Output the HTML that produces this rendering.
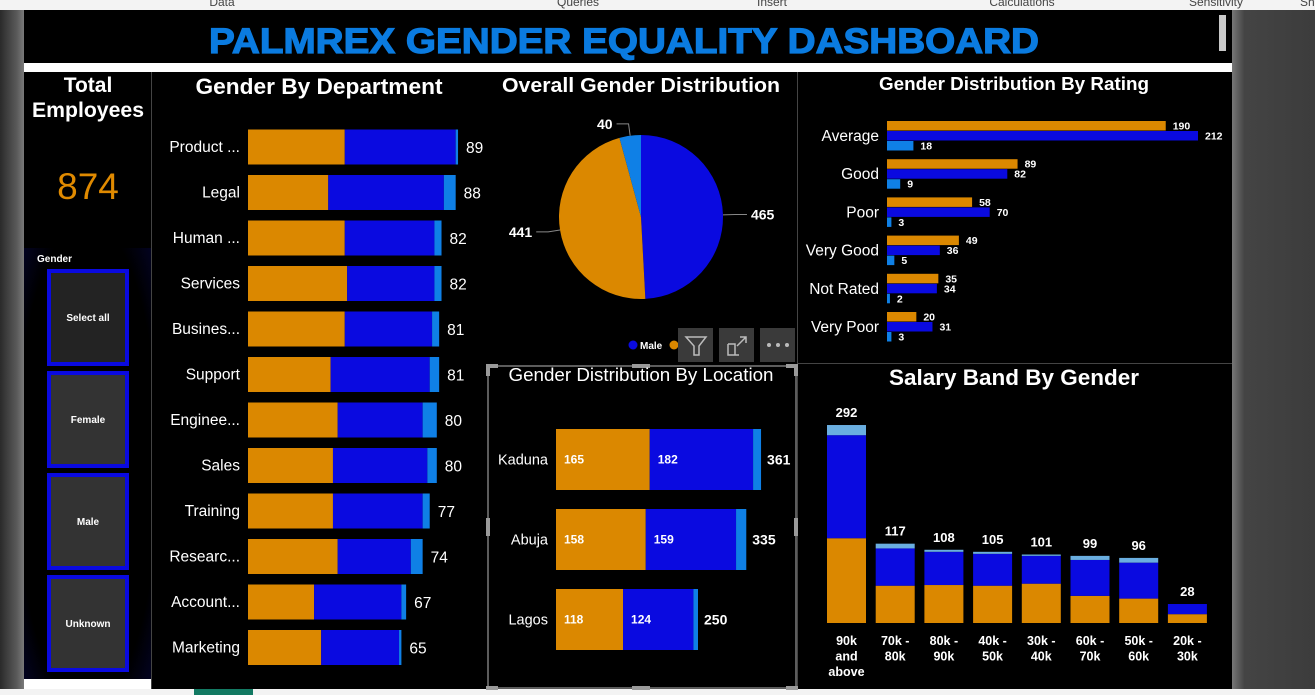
<!DOCTYPE html>
<html><head><meta charset="utf-8">
<style>
html,body{margin:0;padding:0;width:1315px;height:695px;overflow:hidden;background:#3c3c3c;font-family:"Liberation Sans",sans-serif;}
svg{display:block}
</style></head>
<body>
<svg id="dash" width="1315" height="695" viewBox="0 0 1315 695" xmlns="http://www.w3.org/2000/svg" font-family="Liberation Sans, sans-serif">
<defs>
<linearGradient id="lg" x1="0" x2="1"><stop offset="0" stop-color="#2a2a2a"/><stop offset="0.7" stop-color="#5a5a5a"/><stop offset="1" stop-color="#7a7a7a"/></linearGradient>
<linearGradient id="rg" x1="0" x2="1"><stop offset="0" stop-color="#777"/><stop offset="0.15" stop-color="#444"/><stop offset="1" stop-color="#3c3c3c"/></linearGradient>
<radialGradient id="sg" cx="0.5" cy="0.5" r="0.75"><stop offset="0.75" stop-color="#000"/><stop offset="1" stop-color="#03032a"/></radialGradient>
</defs>
<rect x="0" y="0" width="1315" height="10" fill="#f3f3f3"/>
<g font-size="12" fill="#444">
<text x="222" y="6" text-anchor="middle">Data</text>
<text x="578" y="6" text-anchor="middle">Queries</text>
<text x="772" y="6" text-anchor="middle">Insert</text>
<text x="1022" y="6" text-anchor="middle">Calculations</text>
<text x="1216" y="6" text-anchor="middle">Sensitivity</text>
<text x="1300" y="6">Sh</text>
</g>
<rect x="0" y="10" width="24" height="685" fill="url(#lg)"/>
<rect x="1232" y="10" width="83" height="685" fill="url(#rg)"/>
<rect x="24" y="10" width="1208" height="679" fill="#000"/>
<rect x="24" y="679" width="127" height="10" fill="#fff"/>
<rect x="0" y="689" width="1315" height="6" fill="#f3f3f3"/>
<rect x="194" y="689" width="59" height="6" fill="#137a63"/>
<text x="624" y="53" text-anchor="middle" font-size="35" font-weight="bold" fill="#0a7be0" stroke="#0a7be0" stroke-width="1.2" textLength="830" lengthAdjust="spacingAndGlyphs">PALMREX GENDER EQUALITY DASHBOARD</text>
<rect x="1219" y="15" width="7" height="36" fill="#c8c8c8"/>
<rect x="24" y="63" width="1208" height="9" fill="#fff"/>
<g stroke="#444" stroke-width="1">
<line x1="151.5" y1="72" x2="151.5" y2="689"/>
<line x1="797.5" y1="72" x2="797.5" y2="689"/>
<line x1="797" y1="363.5" x2="1232" y2="363.5"/>
</g>
<text x="88" y="92" text-anchor="middle" font-size="21" font-weight="bold" fill="#fff">Total</text>
<text x="88" y="117" text-anchor="middle" font-size="21" font-weight="bold" fill="#fff" textLength="112" lengthAdjust="spacingAndGlyphs">Employees</text>
<text x="88" y="199" text-anchor="middle" font-size="37" fill="#e08a00">874</text>
<rect x="24" y="248" width="127" height="431" fill="url(#sg)"/>
<text x="37" y="262" font-size="10" font-weight="bold" fill="#fff">Gender</text>
<g id="slicer"></g>
<text x="319" y="94" text-anchor="middle" font-size="22" font-weight="bold" fill="#fff" textLength="247" lengthAdjust="spacingAndGlyphs">Gender By Department</text>
<g id="dept"></g>
<text x="641" y="92" text-anchor="middle" font-size="20" font-weight="bold" fill="#fff" textLength="278" lengthAdjust="spacingAndGlyphs">Overall Gender Distribution</text>
<g id="pie"></g>
<text x="1014" y="90" text-anchor="middle" font-size="18.5" font-weight="bold" fill="#fff" textLength="270" lengthAdjust="spacingAndGlyphs">Gender Distribution By Rating</text>
<g id="rating"></g>
<rect x="488" y="366" width="308" height="322" fill="none" stroke="#7a7a7a" stroke-width="1.5"/>
<g fill="#9a9a9a">
<rect x="486" y="364" width="12" height="4"/><rect x="486" y="364" width="4" height="12"/>
<rect x="786" y="364" width="12" height="4"/><rect x="794" y="364" width="4" height="12"/>
<rect x="632" y="364" width="18" height="4"/>
<rect x="486" y="518" width="4" height="18"/><rect x="794" y="518" width="4" height="18"/>
<rect x="632" y="686" width="18" height="4"/>
<rect x="486" y="686" width="12" height="4"/><rect x="786" y="686" width="12" height="4"/>
</g>
<text x="641" y="381" text-anchor="middle" font-size="18.5" fill="#fff" textLength="265" lengthAdjust="spacingAndGlyphs">Gender Distribution By Location</text>
<g id="loc"></g>
<text x="1014" y="385" text-anchor="middle" font-size="22" font-weight="bold" fill="#fff" textLength="250" lengthAdjust="spacingAndGlyphs">Salary Band By Gender</text>
<g id="sal"></g>
<g>
<rect x="678" y="328" width="35" height="34" fill="#3a3a3a"/>
<path d="M686 337 L706 337 L699 346 L699 355 L694 355 L694 346 Z" fill="none" stroke="#bbb" stroke-width="1.5"/>
<rect x="719" y="328" width="35" height="34" fill="#3a3a3a"/>
<path d="M728 344 L728 355 L739 355 M728 344 L735 344 L735 355 M737 346 L746 337 M740 337 L746 337 L746 343" fill="none" stroke="#bbb" stroke-width="1.5"/>
<rect x="760" y="328" width="35" height="34" fill="#3a3a3a"/>
<circle cx="769" cy="345" r="2" fill="#bbb"/><circle cx="778" cy="345" r="2" fill="#bbb"/><circle cx="787" cy="345" r="2" fill="#bbb"/>
</g>
</svg>
<script>
const NS='http://www.w3.org/2000/svg';
const ORANGE='#db8800', BLUE='#0a0ae0', LIGHT='#0f80e6', PALE='#6aaee0';
const deptCats=['Product ...','Legal','Human ...','Services','Busines...','Support','Enginee...','Sales','Training','Researc...','Account...','Marketing'];
const deptFemale=[41,34,41,42,41,35,38,36,36,38,28,31];
const deptMale=[47,49,38,37,37,42,36,40,38,31,37,33];
const deptUnknown=[1,5,3,3,3,4,6,4,3,5,2,1];
const pieCats=['Male','Female','Unknown'];
const pieValues=[465,441,40];
const ratingCats=['Average','Good','Poor','Very Good','Not Rated','Very Poor'];
const ratingFemale=[190,89,58,49,35,20];
const ratingMale=[212,82,70,36,34,31];
const ratingUnknown=[18,9,3,5,2,3];
const locCats=['Kaduna','Abuja','Lagos'];
const locFemale=[165,158,118];
const locMale=[182,159,124];
const locUnknown=[14,18,8];
const salCats=[['90k','and','above'],['70k -','80k'],['80k -','90k'],['40k -','50k'],['30k -','40k'],['60k -','70k'],['50k -','60k'],['20k -','30k']];
const salFemale=[125,55,56,55,58,40,36,13];
const salMale=[152,55,49,47,41,53,53,15];
const salUnknown=[15,7,3,3,2,6,7,0];
const slicerItems=['Select all','Female','Male','Unknown'];

function mk(tag,attrs,parent){const e=document.createElementNS(NS,tag);for(const k in attrs)e.setAttribute(k,attrs[k]);if(parent)parent.appendChild(e);return e;}
function txt(parent,x,y,s,size,fill,anchor,weight){const t=mk('text',{x:x,y:y,'font-size':size,fill:fill,'text-anchor':anchor||'start','font-weight':weight||'normal'},parent);t.textContent=s;return t;}

const sl=document.getElementById('slicer');
slicerItems.forEach((s,i)=>{
  const y=269+i*102;
  const r=mk('rect',{x:49,y:y+2,width:78,height:93,fill:i==0?'#232323':'#333',stroke:'#0a0ae0','stroke-width':4},sl);
  
  
  const t=txt(sl,88,y+52,s,10,'#fff','middle','bold');
  
  
});

const dg=document.getElementById('dept');
const dX=v=>248+v*2.36;
deptCats.forEach((c,i)=>{
  const cy=147+i*45.5, h=35, y=cy-h/2;
  const f=deptFemale[i], m=deptMale[i], u=deptUnknown[i];
  const l=txt(dg,240,cy+5,c,15.5,'#fff','end');
  
  
  const b1=mk('rect',{x:dX(0),y:y,width:dX(f)-dX(0),height:h,fill:ORANGE},dg);
  
  
  const b2=mk('rect',{x:dX(f),y:y,width:dX(f+m)-dX(f),height:h,fill:BLUE},dg);
  
  
  const b3=mk('rect',{x:dX(f+m),y:y,width:dX(f+m+u)-dX(f+m),height:h,fill:LIGHT},dg);
  
  
  const v=txt(dg,dX(f+m+u)+8,cy+6,String(f+m+u),15.5,'#fff','start');
  
  
});

const pg=document.getElementById('pie');
const pcx=641,pcy=217,pr=82;
const pieColors=[BLUE,ORANGE,LIGHT];
const tot=pieValues.reduce((a,b)=>a+b,0);
let a0=0;
const pt=(a,r)=>[pcx+r*Math.sin(a),pcy-r*Math.cos(a)];
pieValues.forEach((v,i)=>{
  const a1=a0+v/tot*2*Math.PI;
  const p0=pt(a0,pr),p1=pt(a1,pr);
  const large=(a1-a0)>Math.PI?1:0;
  const s=mk('path',{d:`M${pcx},${pcy} L${p0[0]},${p0[1]} A${pr},${pr} 0 ${large} 1 ${p1[0]},${p1[1]} Z`,fill:pieColors[i]},pg);
  
  
  const am=(a0+a1)/2;
  const e=pt(am,pr), o=pt(am,pr+12);
  const right=Math.sin(am)>=0;
  const ex=o[0]+(right?12:-12);
  const ln=mk('polyline',{points:`${e[0]},${e[1]} ${o[0]},${o[1]} ${ex},${o[1]}`,fill:'none',stroke:'#888','stroke-width':1},pg);
  
  
  const t=txt(pg,ex+(right?4:-4),o[1]+5,String(v),14,'#fff',right?'start':'end','bold');
  
  
  a0=a1;
});
const lg1=mk('circle',{cx:633,cy:345,r:4.5,fill:BLUE},pg);


const lt1=txt(pg,640,349,'Male',10,'#fff','start','bold');


const lg2=mk('circle',{cx:674,cy:345,r:4.5,fill:ORANGE},pg);



const rg=document.getElementById('rating');
const rX=v=>887+v*1.467;
ratingCats.forEach((c,i)=>{
  const cy=136+i*38.2;
  const l=txt(rg,879,cy+5,c,15.5,'#fff','end');
  
  
  [[ratingFemale[i],ORANGE,-15,'female'],[ratingMale[i],BLUE,-5,'male'],[ratingUnknown[i],LIGHT,5,'unknown']].forEach(([v,col,off,nm])=>{
    const b=mk('rect',{x:rX(0),y:cy+off,width:rX(v)-rX(0),height:9.5,fill:col},rg);
    
    
    const t=txt(rg,rX(v)+7,cy+off+8.5,String(v),10.5,'#fff','start','bold');
    
    
  });
});

const lgp=document.getElementById('loc');
const lX=v=>556+v*0.568;
locCats.forEach((c,i)=>{
  const y=429+i*80, h=61, cy=y+h/2;
  const f=locFemale[i],m=locMale[i],u=locUnknown[i];
  const l=txt(lgp,548,cy+5,c,14.5,'#fff','end');
  
  
  const b1=mk('rect',{x:lX(0),y:y,width:lX(f)-lX(0),height:h,fill:ORANGE},lgp);
  
  
  const b2=mk('rect',{x:lX(f),y:y,width:lX(f+m)-lX(f),height:h,fill:BLUE},lgp);
  
  
  const b3=mk('rect',{x:lX(f+m),y:y,width:lX(f+m+u)-lX(f+m),height:h,fill:LIGHT},lgp);
  
  
  const t1=txt(lgp,lX(0)+8,cy+4,String(f),12,'#fff','start','bold');
  
  
  const t2=txt(lgp,lX(f)+8,cy+4,String(m),12,'#fff','start','bold');
  
  
  const t3=txt(lgp,lX(f+m+u)+6,cy+5,String(f+m+u),14,'#fff','start','bold');
  
  
});

const sg=document.getElementById('sal');
const sY=v=>623-v*0.678;
salCats.forEach((c,i)=>{
  const x=827+i*48.7, w=39;
  const f=salFemale[i],m=salMale[i],u=salUnknown[i];
  const b1=mk('rect',{x:x,y:sY(f),width:w,height:sY(0)-sY(f),fill:ORANGE},sg);
  
  
  const b2=mk('rect',{x:x,y:sY(f+m),width:w,height:sY(f)-sY(f+m),fill:BLUE},sg);
  
  
  const b3=mk('rect',{x:x,y:sY(f+m+u),width:w,height:sY(f+m)-sY(f+m+u),fill:PALE},sg);
  
  
  const t=txt(sg,x+w/2,sY(f+m+u)-8,String(f+m+u),13,'#fff','middle','bold');
  
  
  c.forEach((line,j)=>{
    const tl=txt(sg,x+w/2,645+j*15.5,line,12.5,'#fff','middle','bold');
    
    
  });
});
</script>
</body></html>
